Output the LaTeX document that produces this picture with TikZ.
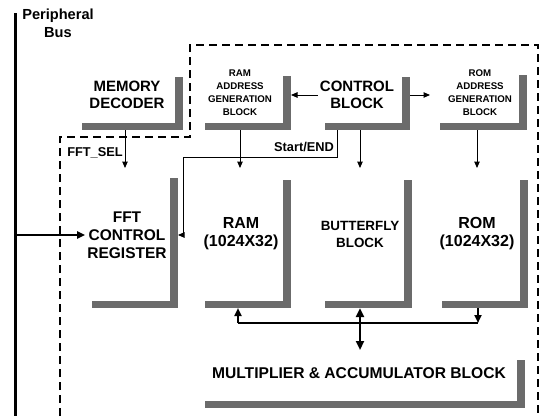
\documentclass[tikz,border=0pt]{standalone}
\usepackage{fontspec}
\setmainfont{Liberation Sans}
\usetikzlibrary{arrows.meta,calc}
\newcommand\shadowL[2]{%
  \fill[shd] ([xshift=-8pt,yshift=-#2]#1.north east) rectangle (#1.south east);
  \fill[shd] (#1.south west) rectangle ([yshift=7.5pt]#1.south east);}
\begin{document}
\begin{tikzpicture}[x=1pt,y=-1pt,font=\bfseries,
  blk/.style={draw=none,inner sep=0pt,outer sep=0pt,anchor=north west},
  lbl/.style={align=center,inner sep=2pt},
  big/.style={font=\bfseries\fontsize{15}{17}\selectfont},
  small/.style={font=\bfseries\fontsize{9.7}{13}\selectfont},
  shd/.style={fill=black!58},
  dsh/.style={line width=1.2pt,dash pattern=on 8pt off 5pt},
  arr/.style={line width=1pt,-{Triangle[length=6.5pt,width=5.5pt]}},
  thk/.style={line width=2.2pt},
  thkarr/.style={line width=2.2pt,-{Triangle[length=8pt,width=7pt]}},
  vthk/.style={line width=2.8pt,{Triangle[length=9pt,width=8pt]}-{Triangle[length=9pt,width=8pt]}}]
\useasboundingbox (0,0) rectangle (542,416);

% dashed outline
\draw[dsh] (60,416) -- (60,137) -- (190,137) -- (190,45) -- (538,45) -- (538,416);

% peripheral bus
\coordinate (busTop) at (15,13);
\coordinate (busBot) at (15,416);
\draw[line width=3pt] (busTop) -- (busBot);
\node[lbl,font=\bfseries\fontsize{14.6}{18}\selectfont] (pbus) at (58,23) {Peripheral\\Bus};

% blocks (extents)
\node[blk,minimum width=101pt,minimum height=53pt] (memdec) at (82,77) {};
\node[blk,minimum width=86pt,minimum height=54pt] (ramag) at (205,76) {};
\node[blk,minimum width=85pt,minimum height=53pt] (ctrl) at (325,77) {};
\node[blk,minimum width=87pt,minimum height=55pt] (romag) at (440,75) {};
\node[blk,minimum width=86pt,minimum height=140pt] (fftcr) at (92,168) {};
\node[blk,minimum width=86pt,minimum height=140pt] (ram) at (205,168) {};
\node[blk,minimum width=87pt,minimum height=140pt] (bfly) at (325,168) {};
\node[blk,minimum width=86pt,minimum height=140pt] (rom) at (442,168) {};
\node[blk,minimum width=320pt,minimum height=58pt] (mac) at (205,350) {};

\shadowL{memdec}{0pt}
\shadowL{ramag}{0pt}
\shadowL{ctrl}{0pt}
\shadowL{romag}{0pt}
\shadowL{fftcr}{10pt}
\shadowL{ram}{12pt}
\shadowL{bfly}{12pt}
\shadowL{rom}{12pt}
\shadowL{mac}{10pt}

% texts
\node[lbl,big] (memdecT) at (127,95) {MEMORY\\DECODER};
\node[lbl,small] (ramagT) at (240,93) {RAM\\ADDRESS\\GENERATION\\BLOCK};
\node[lbl,big] (ctrlT) at (357,95) {CONTROL\\BLOCK};
\node[lbl,small] (romagT) at (480,93) {ROM\\ADDRESS\\GENERATION\\BLOCK};
\node[lbl,font=\bfseries\fontsize{15.5}{18}\selectfont] (fftcrT) at (127,235) {FFT\\CONTROL\\REGISTER};
\node[lbl,font=\bfseries\fontsize{16}{18}\selectfont] (ramT) at (241,234) {RAM\\(1024X32)};
\node[lbl,font=\bfseries\fontsize{13.4}{17}\selectfont] (bflyT) at (360,234) {BUTTERFLY\\BLOCK};
\node[lbl,font=\bfseries\fontsize{16}{18}\selectfont] (romT) at (477,234) {ROM\\(1024X32)};
\node[lbl,font=\bfseries\fontsize{15.6}{18}\selectfont] (macT) at (359,373) {MULTIPLIER \& ACCUMULATOR BLOCK};
\node[lbl,font=\bfseries\fontsize{12.8}{15}\selectfont] (fftsel) at (95,153) {FFT\_SEL};
\node[lbl,font=\bfseries\fontsize{12.8}{15}\selectfont] (startend) at (304,147) {Start/END};

% connectors top
\coordinate (rg) at ([xshift=-10pt]romag.west);
\draw[arr] (ctrlT.west) -- (ctrlT.west -| ramag.east);
\draw[arr] (ctrlT -| ctrl.east) -- (ctrlT -| rg);
\coordinate (m1) at ($(memdec.south west)+(43,0)$);
\draw[arr] (m1) -- (m1 |- fftcr.north);
\draw[arr] (ramagT.south |- ramag.south) -- (ramagT.south |- ram.north);
\draw[arr] (bflyT.south |- ctrl.south) -- (bflyT.south |- bfly.north);
\draw[arr] (romT.north |- romag.south) -- (romT.north |- rom.north);

% Start/END
\coordinate (se0) at ($(ctrl.south west)+(12,0)$);
\coordinate (se1) at (183,157);
\draw[arr] (se0) |- (se1) |- (fftcrT -| fftcr.east);

% bus into FFT control register
\draw[thkarr] (busTop |- fftcrT) -- (fftcrT.west);

% bottom connections
\coordinate (busL) at (238,323);
\coordinate (busR) at (478,323);
\draw[thkarr] (busL) -- (busL |- ram.south);
\draw[thk] (busL) -- (busR);
\draw[thkarr] (busR |- rom.south) -- (busR);
\draw[vthk] (bflyT.south |- bfly.south) -- (bflyT.south |- mac.north);
\end{tikzpicture}
\end{document}
